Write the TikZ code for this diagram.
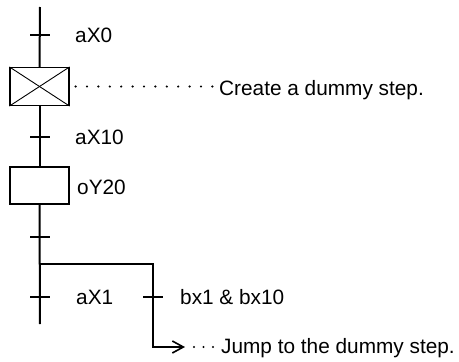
\documentclass[tikz,border=0pt]{standalone}
\usepackage{fontspec}
\setmainfont{Liberation Sans}
\usetikzlibrary{arrows.meta}

\begin{document}
\begin{tikzpicture}[x=1pt,y=-1pt,
    flow/.style={line width=2pt},
    stepbox/.style={draw,line width=1.2pt,minimum width=59pt,minimum height=38pt,inner sep=0pt},
    tick/.style={line width=2pt},
    lbl/.style={anchor=base west,inner sep=0pt,font=\fontsize{20.8}{25}\selectfont},
    dots/.style={line width=2.4pt,line cap=round,dash pattern=on 0pt off #1},
    dots/.default=11.4pt]
    \useasboundingbox (0,0) rectangle (459,362);
    % Etapes
    \node[stepbox] (dummy) at (39.5,86.5) {};
    \node[stepbox,minimum height=37pt] (oy) at (39.5,185.5) {};
    \draw[line width=0.9pt](dummy.north west) -- (dummy.south east); % Croix
    \draw[line width=0.9pt](dummy.south west) -- (dummy.north east); % Croix
    % Points de la ligne
    \coordinate (top) at (40,7);
    \coordinate (tx0) at (40,35);
    \coordinate (tx10) at (40,137);
    \coordinate (tnone) at (40,237);
    \coordinate (br) at (40,264);
    \coordinate (tx1) at (40,297);
    \coordinate (bot) at (40,324);
    \coordinate (tbx) at (153,297);
    \coordinate (bend) at (153,347);
    \coordinate (jtip) at (185,347);
    % Ligne principale
    \draw[flow](top) -- (dummy.north);
    \draw[flow](dummy.south) -- (oy.north);
    \draw[flow](oy.south) -- (bot);
    % Branche de saut
    \draw[flow,-{Straight Barb[length=11pt,width=12pt,line width=1.6pt]}](br) -| (bend) -- (jtip);
    % Transitions
    \foreach \t in {tx0,tx10,tnone,tx1,tbx}
        \draw[tick](\t) ++(-10,0) -- ++(20,0);
    % Textes
    \node[lbl] (lx0) at (75,42) {aX0};
    \node[lbl] (lx10) at (75,144.5) {aX10};
    \node[lbl] (ly20) at (77,194.5) {oY20};
    \node[lbl] (lx1) at (76,304.5) {aX1};
    \node[lbl] (lbx) at (180,304.5) {bx1 \& bx10};
    \node[lbl,inner xsep=5pt] (create) at (214,95.5) {Create a dummy step.};
    \node[lbl,inner xsep=5pt] (jump) at (216,353) {Jump to the dummy step.};
    % Pointilles
    \draw[dots,dash phase=5.4pt](dummy.east) -- (dummy.east -| create.west);
    \draw[dots=9.5pt,dash phase=0.5pt](jtip) -- (jtip -| jump.west);
\end{tikzpicture}
\end{document}
